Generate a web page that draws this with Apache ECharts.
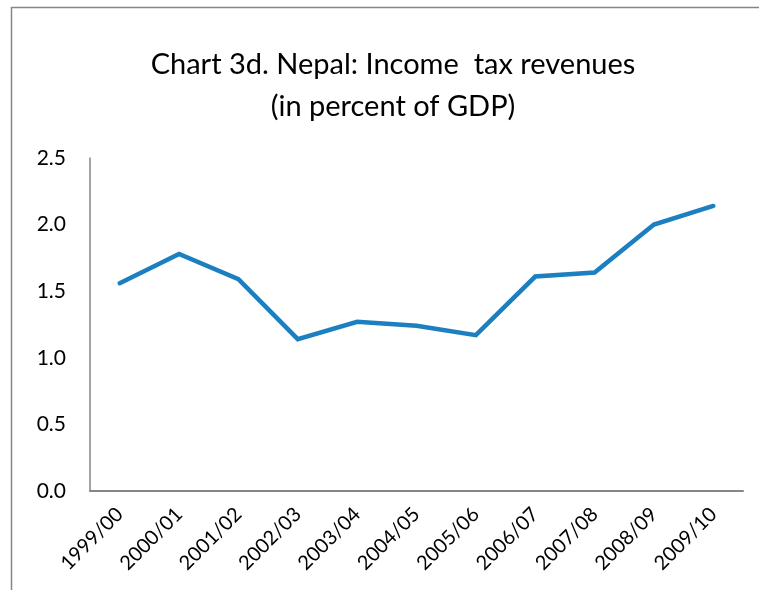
<!DOCTYPE html>
<html>
<head>
<meta charset="utf-8">
<script src="https://cdn.jsdelivr.net/npm/echarts@6/dist/echarts.min.js"></script>
<style>
  html, body { margin: 0; padding: 0; background: #fff; }
  #chart { width: 759px; height: 590px; }
</style>
</head>
<body>
<div id="chart"></div>
<script>
// Fiscal years on the category axis
const years = ['1999/00', '2000/01', '2001/02', '2002/03', '2003/04', '2004/05',
               '2005/06', '2006/07', '2007/08', '2008/09', '2009/10'];
// Income tax revenues, percent of GDP
const incomeTax = [1.56, 1.78, 1.59, 1.14, 1.27, 1.24, 1.17, 1.61, 1.64, 2.00, 2.14];
// Value axis settings
const yMin = 0;
const yMax = 2.5;
const yStep = 0.5;

const FONT = 'Lato, "Open Sans", "Noto Sans", sans-serif';
const AXIS_GRAY = '#868686';

const chart = echarts.init(document.getElementById('chart'), null, { renderer: 'canvas' });

chart.setOption({
  animation: false,
  backgroundColor: '#ffffff',
  title: {
    text: 'Chart 3d. Nepal: Income  tax revenues\n(in percent of GDP)',
    left: 393,
    top: 44,
    padding: 0,
    textAlign: 'center',
    textStyle: {
      fontFamily: FONT,
      fontSize: 29,
      fontWeight: 'normal',
      color: '#000',
      lineHeight: 42
    }
  },
  graphic: [
    {
      type: 'rect',
      silent: true,
      shape: { x: 11.5, y: 7.5, width: 800, height: 700 },
      style: { fill: 'none', stroke: AXIS_GRAY, lineWidth: 1.5 }
    }
  ],
  grid: {
    left: 90,
    right: 16,
    top: 158,
    bottom: 99,
    containLabel: false
  },
  xAxis: {
    type: 'category',
    data: years,
    boundaryGap: true,
    axisLine: { show: true, lineStyle: { color: AXIS_GRAY, width: 2 } },
    axisTick: { show: false },
    axisLabel: {
      rotate: 45,
      interval: 0,
      margin: 20,
      fontFamily: FONT,
      fontSize: 20,
      color: '#000'
    },
    splitLine: { show: false }
  },
  yAxis: {
    type: 'value',
    min: yMin,
    max: yMax,
    interval: yStep,
    axisLine: { show: true, lineStyle: { color: AXIS_GRAY, width: 1.5 } },
    axisTick: { show: false },
    splitLine: { show: false },
    axisLabel: {
      margin: 24,
      fontFamily: FONT,
      fontSize: 21,
      color: '#000',
      formatter: v => v.toFixed(1)
    }
  },
  series: [
    {
      type: 'line',
      data: incomeTax,
      symbol: 'none',
      lineStyle: { color: '#1b7fc0', width: 4.5, cap: 'round', join: 'miter' },
      itemStyle: { color: '#1b7fc0' }
    }
  ]
});
</script>
</body>
</html>
